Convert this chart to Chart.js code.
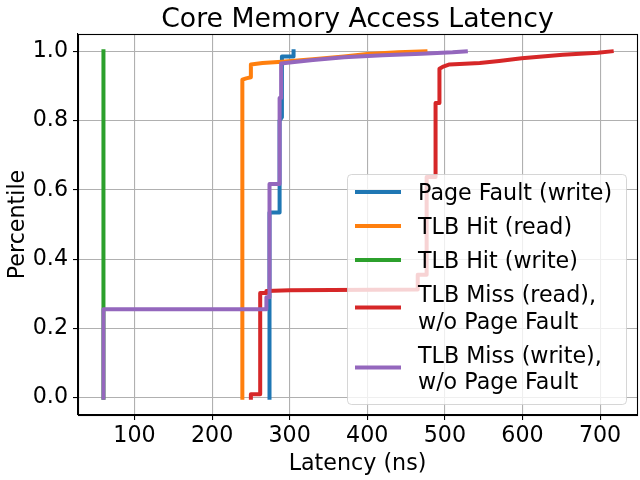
<!DOCTYPE html>
<html><head><meta charset="utf-8">
<script src="https://cdn.jsdelivr.net/npm/chart.js@4.4.0/dist/chart.umd.min.js"></script>
<style>html,body{margin:0;padding:0;background:#fff;}#c{display:block;}</style>
</head><body>
<canvas id="c" width="640" height="480"></canvas>
<script>
// ---- data ----
const chartTitle = "Core Memory Access Latency";
const seriesNames = ["Page Fault (write)", "TLB Hit (read)", "TLB Hit (write)", "TLB Miss (read),\nw/o Page Fault", "TLB Miss (write),\nw/o Page Fault"];
const latencyTicks = [100, 200, 300, 400, 500, 600, 700];
const percentileTicks = [0, 0.2, 0.4, 0.6, 0.8, 1.0];

const pageFaultX = [274, 274, 287, 287, 290, 290, 305, 305];
const pageFaultY = [0, 0.535, 0.535, 0.80, 0.81, 0.985, 0.985, 1.0];

const tlbHitReadX = [239, 239, 244, 250, 250, 265, 290, 330, 370, 400, 440, 475];
const tlbHitReadY = [0, 0.918, 0.922, 0.925, 0.962, 0.966, 0.970, 0.977, 0.985, 0.992, 0.997, 1.0];

const tlbHitWriteX = [60, 60];
const tlbHitWriteY = [0, 1.0];

const tlbMissReadX = [250, 250, 262, 262, 270, 270, 300, 465, 465, 476.5, 476.5, 488, 488, 493, 493, 497, 506, 545, 570, 599, 652, 697, 715];
const tlbMissReadY = [0, 0.01, 0.01, 0.302, 0.302, 0.308, 0.31, 0.312, 0.355, 0.355, 0.637, 0.637, 0.851, 0.851, 0.95, 0.955, 0.962, 0.966, 0.972, 0.98, 0.99, 0.996, 1.0];

const tlbMissWriteX = [60, 60, 270, 270, 274, 274, 287, 287, 289, 289, 300, 330, 370, 420, 470, 510, 527];
const tlbMissWriteY = [0, 0.255, 0.255, 0.29, 0.29, 0.617, 0.617, 0.865, 0.865, 0.965, 0.968, 0.975, 0.983, 0.989, 0.993, 0.997, 1.0];

const colors = ["#1f77b4", "#ff7f0e", "#2ca02c", "#d62728", "#9467bd"];
// ---------------------------------------

const seriesX = [pageFaultX, tlbHitReadX, tlbHitWriteX, tlbMissReadX, tlbMissWriteX];
const seriesY = [pageFaultY, tlbHitReadY, tlbHitWriteY, tlbMissReadY, tlbMissWriteY];
const FONT = "'DejaVu Sans', 'Liberation Sans', sans-serif";
const FS = 22.2;

function pts(xs, ys) { return xs.map((x, i) => ({x: x, y: ys[i]})); }

const datasets = seriesNames.map((n, i) => ({
  label: n,
  data: pts(seriesX[i], seriesY[i]),
  showLine: true,
  borderColor: colors[i],
  backgroundColor: colors[i],
  borderWidth: 4,
  pointRadius: 0,
  pointHoverRadius: 0,
  tension: 0,
  fill: false,
  borderCapStyle: 'square',
  borderJoinStyle: 'round',
  order: seriesNames.length - i
}));

const bgPlugin = {
  id: 'bg',
  beforeDraw(chart) {
    const c = chart.ctx; c.save(); c.fillStyle = '#fff'; c.fillRect(0, 0, chart.width, chart.height); c.restore();
  },
  afterDraw(chart) {
    const c = chart.ctx, a = chart.chartArea;
    c.save();
    c.fillStyle = '#000';
    c.font = '26.7px ' + FONT;
    c.textAlign = 'center';
    c.textBaseline = 'alphabetic';
    c.fillText(chartTitle, (a.left + a.right) / 2, 27);
    c.restore();
  }
};

function roundRect(ctx, x, y, w, h, r) {
  ctx.beginPath();
  ctx.moveTo(x + r, y);
  ctx.arcTo(x + w, y, x + w, y + h, r);
  ctx.arcTo(x + w, y + h, x, y + h, r);
  ctx.arcTo(x, y + h, x, y, r);
  ctx.arcTo(x, y, x + w, y, r);
  ctx.closePath();
}

const frameLegendPlugin = {
  id: 'frameLegend',
  afterDatasetsDraw(chart) {
    const ctx = chart.ctx, a = chart.chartArea;
    ctx.save();
    ctx.strokeStyle = '#000';
    ctx.lineWidth = 1.1;
    ctx.strokeRect(Math.round(a.left) + 0.5, Math.round(a.top) + 0.5, Math.round(a.right - a.left), Math.round(a.bottom - a.top));
    // legend
    const lx = 347, ly = 174, lw = 279, lh = 230;
    roundRect(ctx, lx + 0.5, ly + 0.5, lw, lh, 4);
    ctx.fillStyle = 'rgba(255,255,255,0.8)';
    ctx.fill();
    ctx.strokeStyle = 'rgba(204,204,204,0.8)';
    ctx.lineWidth = 1;
    ctx.stroke();
    const handleY = [192, 226, 260, 307.5, 367.5];
    const baselines = [[200], [234], [268], [301.5, 329], [362.5, 389]];
    ctx.font = FS + 'px ' + FONT;
    ctx.textAlign = 'left';
    ctx.textBaseline = 'alphabetic';
    seriesNames.forEach((n, i) => {
      ctx.beginPath();
      ctx.strokeStyle = colors[i];
      ctx.lineWidth = 4;
      ctx.lineCap = 'butt';
      ctx.moveTo(355, handleY[i]);
      ctx.lineTo(401, handleY[i]);
      ctx.stroke();
      ctx.fillStyle = '#000';
      n.split('\n').forEach((line, k) => ctx.fillText(line, 418, baselines[i][k]));
    });
    ctx.restore();
  }
};

new Chart(document.getElementById('c'), {
  type: 'scatter',
  data: { datasets: datasets },
  options: {
    responsive: false,
    animation: false,
    devicePixelRatio: 1,
    layout: { padding: { left: 0, right: 3, top: 34, bottom: 0 } },
    plugins: {
      legend: { display: false },
      tooltip: { enabled: false },
      title: { display: false }
    },
    scales: {
      x: {
        type: 'linear',
        min: 27.2, max: 747.6,
        afterBuildTicks: s => { s.ticks = latencyTicks.map(v => ({value: v})); },
        afterFit: s => { s.height = 65; },
        ticks: { color: '#000', font: { family: FONT, size: FS }, padding: 3, maxRotation: 0, autoSkip: false, callback: v => String(v) },
        grid: { color: '#b0b0b0', lineWidth: 1.1, tickColor: '#000', tickLength: 5, tickWidth: 1.1, drawTicks: true },
        border: { display: true, color: '#000', width: 1.1 },
        title: { display: true, text: 'Latency (ns)', color: '#000', font: { family: FONT, size: FS }, padding: { top: 0, bottom: 2 } }
      },
      y: {
        type: 'linear',
        min: -0.05, max: 1.05,
        afterBuildTicks: s => { s.ticks = percentileTicks.map(v => ({value: v})); },
        afterFit: s => { s.width = 78; },
        ticks: { color: '#000', font: { family: FONT, size: FS }, padding: 5, autoSkip: false, callback: v => Number(v).toFixed(1) },
        grid: { color: '#b0b0b0', lineWidth: 1.1, tickColor: '#000', tickLength: 5, tickWidth: 1.1, drawTicks: true },
        border: { display: true, color: '#000', width: 1.1 },
        title: { display: true, text: 'Percentile', color: '#000', font: { family: FONT, size: FS }, padding: { top: 4.5, bottom: 0 } }
      }
    }
  },
  plugins: [bgPlugin, frameLegendPlugin]
});
</script>
</body></html>
